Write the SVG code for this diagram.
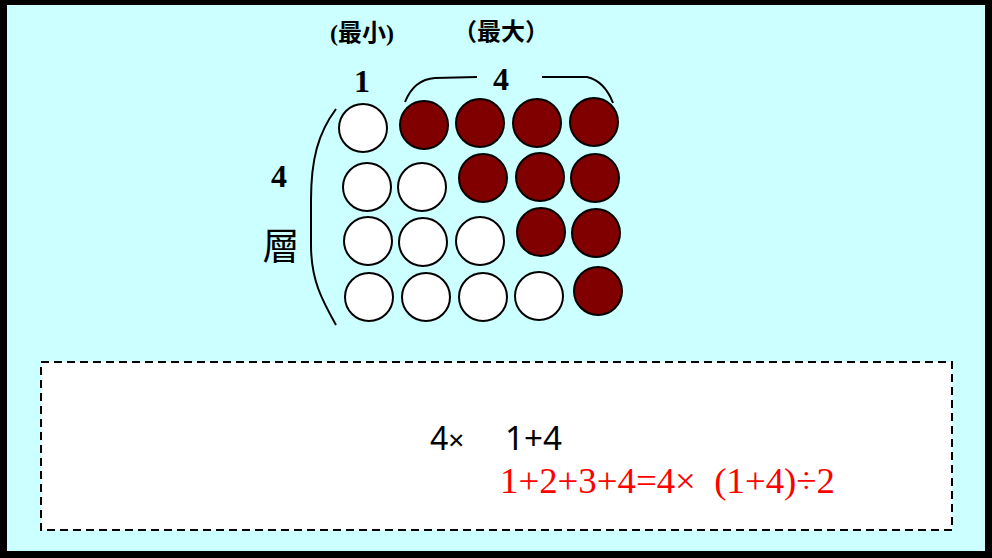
<svg xmlns="http://www.w3.org/2000/svg" width="992" height="558" viewBox="0 0 992 558">
<style>
.w{fill:#ffffff;stroke:#000;stroke-width:2}
.r{fill:#800000;stroke:#000;stroke-width:2}
.br{fill:none;stroke:#000;stroke-width:2}
.lbl{font-family:"Liberation Serif","Noto Sans CJK TC",serif;font-weight:bold;fill:#000}
</style>
<rect x="0" y="0" width="992" height="558" fill="#000"/>
<rect x="7" y="5" width="978" height="546" fill="#CCFFFF"/>
<g id="labels">
<text class="lbl" x="362" y="41" font-size="24" text-anchor="middle">(最小)</text>
<text class="lbl" x="501" y="40" font-size="24" text-anchor="middle">（最大）</text>
<text class="lbl" x="362" y="92" font-size="32" text-anchor="middle">1</text>
<text class="lbl" x="501" y="90" font-size="32" text-anchor="middle">4</text>
<text class="lbl" x="279" y="187" font-size="32" text-anchor="middle">4</text>
<text x="281" y="260" font-size="37" text-anchor="middle" font-family="'Noto Sans CJK TC','Noto Sans CJK SC',serif" fill="#000">層</text>
</g>
<g id="braces">
<path class="br" d="M336,109 C318,133 311,160 311,200 L311,245 C311,280 322,300 336,325"/>
<path class="br" d="M405,102 C411,87 420,79 435,78 L477,77"/>
<path class="br" d="M542,77 L587,77 C600,80 608,90 613,103"/>
</g>
<g id="circles">
<circle class="w" cx="363" cy="128" r="24"/>
<circle class="r" cx="424" cy="125" r="24"/>
<circle class="r" cx="480" cy="123" r="24"/>
<circle class="r" cx="537" cy="123" r="24"/>
<circle class="r" cx="594" cy="122" r="24"/>
<circle class="w" cx="367" cy="187" r="24"/>
<circle class="w" cx="422" cy="187" r="24"/>
<circle class="r" cx="483" cy="178" r="24"/>
<circle class="r" cx="540" cy="177" r="24"/>
<circle class="r" cx="595" cy="178" r="24"/>
<circle class="w" cx="368" cy="241" r="24"/>
<circle class="w" cx="423" cy="242" r="24"/>
<circle class="w" cx="480" cy="241" r="24"/>
<circle class="r" cx="541" cy="232" r="24"/>
<circle class="r" cx="596" cy="233" r="24"/>
<circle class="w" cx="369" cy="297" r="24"/>
<circle class="w" cx="426" cy="297" r="24"/>
<circle class="w" cx="483" cy="297" r="24"/>
<circle class="w" cx="539" cy="296" r="24"/>
<circle class="r" cx="598" cy="291" r="24"/>
</g>
<g id="formula-box">
<rect x="41" y="362" width="911" height="168" fill="#fff" stroke="#000" stroke-width="2" stroke-dasharray="8,5"/>
<text x="430" y="450" font-size="32" font-family="'Noto Sans','Noto Sans CJK SC',sans-serif" fill="#000">4<tspan font-size="28">×</tspan></text>
<text x="505" y="450" font-size="32" font-family="'Noto Sans','Noto Sans CJK SC',sans-serif" fill="#000" textLength="57" lengthAdjust="spacingAndGlyphs">1+4</text>
<text x="500" y="493" font-size="36" font-family="'Liberation Serif',serif" fill="#FF0000" textLength="335" lengthAdjust="spacingAndGlyphs" xml:space="preserve">1+2+3+4=4×  (1+4)÷2</text>
</g>
</svg>
